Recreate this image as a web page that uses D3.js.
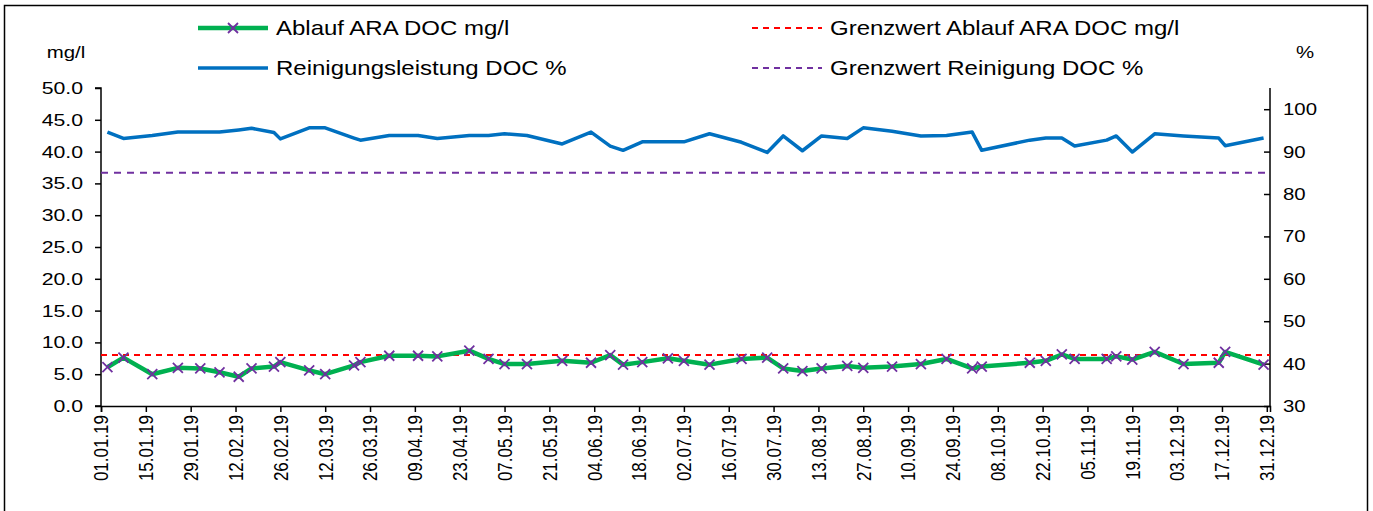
<!DOCTYPE html>
<html>
<head>
<meta charset="utf-8">
<script src="https://cdn.jsdelivr.net/npm/d3@7"></script>
<style>
  body { margin: 0; background: #fff; }
  svg { font-family: "Liberation Sans", Arial, sans-serif; }
</style>
</head>
<body>
<svg id="chart"></svg>
<script>
// sample dates (dd.mm.yy)
const dates = [
  "03.01.19", "08.01.19", "17.01.19", "25.01.19", "01.02.19", "07.02.19", "13.02.19", "17.02.19",
  "24.02.19", "26.02.19", "07.03.19", "12.03.19", "21.03.19", "23.03.19", "01.04.19", "10.04.19",
  "16.04.19", "26.04.19", "02.05.19", "07.05.19", "14.05.19", "25.05.19", "03.06.19", "09.06.19",
  "13.06.19", "19.06.19", "27.06.19", "02.07.19", "10.07.19", "20.07.19", "28.07.19", "02.08.19",
  "08.08.19", "14.08.19", "22.08.19", "27.08.19", "05.09.19", "14.09.19", "22.09.19", "30.09.19",
  "03.10.19", "18.10.19", "23.10.19", "28.10.19", "01.11.19", "11.11.19", "14.11.19", "19.11.19",
  "26.11.19", "05.12.19", "16.12.19", "18.12.19", "30.12.19"
];

// Ablauf ARA DOC mg/l
const ablaufDoc = [
  6.1, 7.6, 5.0, 6.0, 5.9, 5.3, 4.6, 5.9,
  6.2, 6.9, 5.6, 5.0, 6.4, 6.9, 7.9, 7.9,
  7.8, 8.7, 7.4, 6.6, 6.6, 7.1, 6.8, 8.0,
  6.5, 6.9, 7.5, 7.1, 6.5, 7.4, 7.6, 5.9,
  5.5, 5.9, 6.3, 6.0, 6.2, 6.6, 7.4, 5.9,
  6.2, 6.8, 7.1, 8.1, 7.4, 7.4, 7.8, 7.3,
  8.5, 6.6, 6.8, 8.5, 6.5
];

// Reinigungsleistung DOC %
const reinigung = [
  94.6, 93.1, 93.8, 94.6, 94.6, 94.6, 95.1, 95.5,
  94.5, 93.0, 95.6, 95.6, 93.2, 92.7, 93.8, 93.8,
  93.1, 93.8, 93.8, 94.2, 93.8, 91.8, 94.6, 91.3,
  90.3, 92.3, 92.3, 92.3, 94.2, 92.2, 89.8, 93.7,
  90.2, 93.7, 93.1, 95.6, 94.8, 93.7, 93.8, 94.6,
  90.3, 92.7, 93.2, 93.2, 91.3, 92.7, 93.7, 89.9,
  94.2, 93.7, 93.2, 91.4, 93.2
];

const grenzAblauf = 8;     // mg/l
const grenzReinigung = 85; // %

// x tick labels
const xTickLabels = [
  "01.01.19", "15.01.19", "29.01.19", "12.02.19", "26.02.19", "12.03.19", "26.03.19", "09.04.19",
  "23.04.19", "07.05.19", "21.05.19", "04.06.19", "18.06.19", "02.07.19", "16.07.19", "30.07.19",
  "13.08.19", "27.08.19", "10.09.19", "24.09.19", "08.10.19", "22.10.19", "05.11.19", "19.11.19",
  "03.12.19", "17.12.19", "31.12.19"
];
const leftTicks = [0, 5, 10, 15, 20, 25, 30, 35, 40, 45, 50];
const rightTicks = [30, 40, 50, 60, 70, 80, 90, 100];

const width = 1373, height = 511;
const margin = { top: 88, right: 103, bottom: 105, left: 101 };
const innerW = width - margin.left - margin.right;
const innerH = height - margin.top - margin.bottom;
const sx = 1.25; // the original text is a bit wide

const parse = d3.timeParse("%d.%m.%y");
const fmt = d3.timeFormat("%d.%m.%y");

const rows = dates.map((d, i) => ({ date: parse(d), doc: ablaufDoc[i], rein: reinigung[i] }));

const svg = d3.select("#chart").attr("width", width).attr("height", height);

// outer frame
svg.append("rect")
  .attr("x", 4.5).attr("y", 5.5)
  .attr("width", 1363).attr("height", 520)
  .attr("fill", "none").attr("stroke", "#000").attr("stroke-width", 1.5);

const g = svg.append("g").attr("transform", `translate(${margin.left},${margin.top})`);

const x = d3.scaleTime()
  .domain([parse("01.01.19"), parse("01.01.20")])
  .range([0, innerW]);

const yL = d3.scaleLinear().domain([0, 50]).range([innerH, 0]);
const yR = d3.scaleLinear().domain([30, 105]).range([innerH, 0]);

// axes
const axL = g.append("g")
  .call(d3.axisLeft(yL).tickValues(leftTicks).tickFormat(d3.format(".1f")).tickSize(6));
const axR = g.append("g")
  .attr("transform", `translate(${innerW},0)`)
  .call(d3.axisRight(yR).tickValues(rightTicks).tickSize(-6));
const axB = g.append("g")
  .attr("transform", `translate(0,${innerH})`)
  .call(d3.axisBottom(x).tickValues(xTickLabels.map(parse)).tickFormat(fmt).tickSize(6));

[axL, axR, axB].forEach(a => {
  a.select(".domain").attr("stroke", "#000").attr("stroke-width", 1.5);
  a.selectAll(".tick line").attr("stroke", "#000").attr("stroke-width", 1.5);
  a.selectAll("text").attr("fill", "#000").style("font-size", "17px");
});
axL.select(".domain").attr("d", `M-6,${innerH}H0V0H-6`);
axR.select(".domain").attr("d", `M0,${innerH}V0`);

axL.selectAll("text").attr("transform", `scale(${sx},1)`).attr("x", -18 / sx);
axR.selectAll("text").attr("transform", `scale(1.2,1)`).attr("x", 13 / 1.2);

axB.selectAll("text")
  .attr("transform", "rotate(-90) scale(1,1.15)")
  .attr("text-anchor", "end")
  .attr("x", -9)
  .attr("y", 0)
  .attr("dy", "0.35em");

// limit lines
g.append("line")
  .attr("x1", 0).attr("x2", innerW)
  .attr("y1", yR(grenzReinigung)).attr("y2", yR(grenzReinigung))
  .attr("stroke", "#7030A0").attr("stroke-width", 2).attr("stroke-dasharray", "7,6");
g.append("line")
  .attr("x1", 0).attr("x2", innerW)
  .attr("y1", yL(grenzAblauf)).attr("y2", yL(grenzAblauf))
  .attr("stroke", "#FF0000").attr("stroke-width", 2).attr("stroke-dasharray", "6,5");

// Reinigungsleistung
g.append("path")
  .datum(rows)
  .attr("fill", "none")
  .attr("stroke", "#0070C0")
  .attr("stroke-width", 3.5)
  .attr("stroke-linejoin", "round")
  .attr("d", d3.line().x(d => x(d.date)).y(d => yR(d.rein)));

// Ablauf DOC
g.append("path")
  .datum(rows)
  .attr("fill", "none")
  .attr("stroke", "#00B050")
  .attr("stroke-width", 4.5)
  .attr("stroke-linejoin", "round")
  .attr("d", d3.line().x(d => x(d.date)).y(d => yL(d.doc)));

const xMark = (sel, s) => sel.append("path")
  .attr("d", `M${-s},${-s}L${s},${s}M${-s},${s}L${s},${-s}`)
  .attr("stroke", "#7030A0").attr("stroke-width", 1.8).attr("fill", "none");

g.selectAll(".mark")
  .data(rows)
  .join("g")
  .attr("class", "mark")
  .attr("transform", d => `translate(${x(d.date)},${yL(d.doc)})`)
  .each(function () { xMark(d3.select(this), 5); });

// axis titles
svg.append("text").attr("transform", `translate(66,58) scale(1.2,1)`).attr("text-anchor", "middle")
  .style("font-size", "17px").text("mg/l");
svg.append("text").attr("transform", `translate(1305,58) scale(1.2,1)`).attr("text-anchor", "middle")
  .style("font-size", "17px").text("%");

// legend
const legend = [
  { label: "Ablauf ARA DOC mg/l", color: "#00B050", w: 4.5, dash: null, mark: true, x: 198, y: 28 },
  { label: "Reinigungsleistung DOC %", color: "#0070C0", w: 3.5, dash: null, mark: false, x: 198, y: 68 },
  { label: "Grenzwert Ablauf ARA DOC mg/l", color: "#FF0000", w: 2, dash: "6,5", mark: false, x: 752, y: 28 },
  { label: "Grenzwert Reinigung DOC %", color: "#7030A0", w: 2, dash: "6,5", mark: false, x: 752, y: 68 }
];
const lg = svg.append("g").selectAll("g").data(legend).join("g")
  .attr("transform", d => `translate(${d.x},${d.y})`);
lg.append("line")
  .attr("x1", 0).attr("x2", 70)
  .attr("stroke", d => d.color).attr("stroke-width", d => d.w)
  .attr("stroke-dasharray", d => d.dash);
lg.filter(d => d.mark).append("g")
  .attr("transform", "translate(35,0)")
  .each(function () { xMark(d3.select(this), 5); });
lg.append("text")
  .attr("transform", "translate(78,0) scale(1.2,1)")
  .attr("dy", "0.35em")
  .style("font-size", "20px")
  .text(d => d.label);
</script>
</body>
</html>
